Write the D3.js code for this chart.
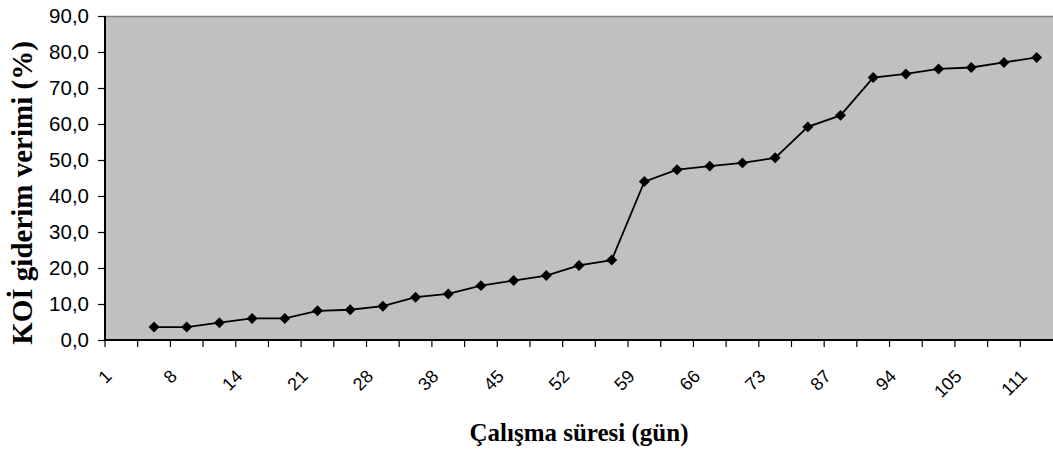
<!DOCTYPE html>
<html>

<head>
    <meta charset="utf-8">
    <style>
        body {
            margin: 0;
            background: white;
        }

        svg {
            display: block;
        }

        .tick-label {
            font-family: 'Liberation Sans', Arial, sans-serif;
            fill: #000;
        }

        .axis-title {
            font-family: 'Liberation Serif', 'Times New Roman', serif;
            font-weight: bold;
            fill: #000;
        }
    </style>
</head>

<body>
    <svg width="1053" height="452"></svg>

    <script src="https://d3js.org/d3.v7.min.js"></script>
    <script>
        // day labels shown under every second category
        let dayLabels = ["1", "8", "14", "21", "28", "38", "45", "52", "59", "66", "73", "87", "94", "105", "111"]
        // number of categories on the x axis (first one has no value)
        let categoryCount = 29
        // KOİ giderim verimi (%) for categories 1..28
        let removal = [3.6, 3.6, 4.8, 6.0, 6.0, 8.1, 8.4, 9.4, 11.9, 12.8, 15.1, 16.5, 17.9, 20.7,
            22.2, 44.0, 47.3, 48.3, 49.2, 50.6, 59.2, 62.4, 72.9, 73.9, 75.3, 75.7, 77.1, 78.5]
        let yTicks = [0, 10, 20, 30, 40, 50, 60, 70, 80, 90]

        let svg = d3.select("svg")

        let plotLeft = 105, plotRight = 1053, plotTop = 16, plotBottom = 340

        let x = d3.scaleBand()
            .domain(d3.range(categoryCount))
            .range([plotLeft, plotRight])
            .padding(0)

        let y = d3.scaleLinear()
            .domain([0, 90])
            .range([plotBottom, plotTop])

        // plot area
        svg.append("rect")
            .attr("x", plotLeft)
            .attr("y", plotTop)
            .attr("width", plotRight - plotLeft)
            .attr("height", plotBottom - plotTop)
            .style("fill", "#C0C0C0")

        svg.append("line")
            .attr("x1", plotLeft).attr("x2", plotRight)
            .attr("y1", plotTop + 0.5).attr("y2", plotTop + 0.5)
            .style("stroke", "#808080")
            .style("stroke-width", 1.5)

        // y axis
        let yAxis = svg.append("g")
            .attr("transform", "translate(" + plotLeft + ",0)")
            .call(d3.axisLeft(y)
                .tickValues(yTicks)
                .tickSize(7)
                .tickPadding(9)
                .tickFormat(d => d3.format(".1f")(d).replace(".", ",")))

        yAxis.select(".domain").remove()
        yAxis.selectAll(".tick line").style("stroke", "#000").style("stroke-width", 1.2)
        yAxis.selectAll("text")
            .attr("class", "tick-label")
            .style("font-size", "20.5px")

        svg.append("line")
            .attr("x1", plotLeft).attr("x2", plotLeft)
            .attr("y1", plotTop).attr("y2", plotBottom + 1)
            .style("stroke", "#000")
            .style("stroke-width", 2)

        // x axis: ticks on category boundaries
        svg.selectAll(".xtick")
            .data(d3.range(categoryCount))
            .join("line")
            .attr("class", "xtick")
            .attr("x1", d => x(d))
            .attr("x2", d => x(d))
            .attr("y1", plotBottom)
            .attr("y2", plotBottom + 7)
            .style("stroke", "#000")
            .style("stroke-width", 1.2)

        svg.append("line")
            .attr("x1", plotLeft).attr("x2", plotRight)
            .attr("y1", plotBottom).attr("y2", plotBottom)
            .style("stroke", "#000")
            .style("stroke-width", 2)

        svg.selectAll(".xlabel")
            .data(dayLabels)
            .join("text")
            .attr("class", "tick-label xlabel")
            .attr("transform", (d, i) => {
                let cx = x(i * 2) + x.bandwidth() / 2
                return "translate(" + (cx - 13) + "," + 373 + ") rotate(-45)"
            })
            .attr("text-anchor", "end")
            .attr("dy", "0.35em")
            .style("font-size", "18px")
            .text(d => d)

        // line + diamonds
        let points = removal.map((v, i) => ({ cat: i + 1, value: v }))

        let line = d3.line()
            .x(d => x(d.cat) + x.bandwidth() / 2)
            .y(d => y(d.value))

        svg.append("path")
            .datum(points)
            .attr("d", line)
            .style("fill", "none")
            .style("stroke", "#000")
            .style("stroke-width", 1.8)

        svg.selectAll(".marker")
            .data(points)
            .join("path")
            .attr("class", "marker")
            .attr("d", d3.symbol(d3.symbolSquare, 60))
            .attr("transform", d => "translate(" + (x(d.cat) + x.bandwidth() / 2) + "," + y(d.value) + ") rotate(45)")
            .style("fill", "#000")

        // axis titles
        svg.append("text")
            .attr("class", "axis-title")
            .attr("x", 579)
            .attr("y", 441)
            .attr("text-anchor", "middle")
            .style("font-size", "25px")
            .text("Çalışma süresi (gün)")

        svg.append("text")
            .attr("class", "axis-title")
            .attr("transform", "translate(32,193) rotate(-90)")
            .attr("text-anchor", "middle")
            .style("font-size", "29px")
            .text("KOİ giderim verimi (%)")
    </script>
</body>

</html>
